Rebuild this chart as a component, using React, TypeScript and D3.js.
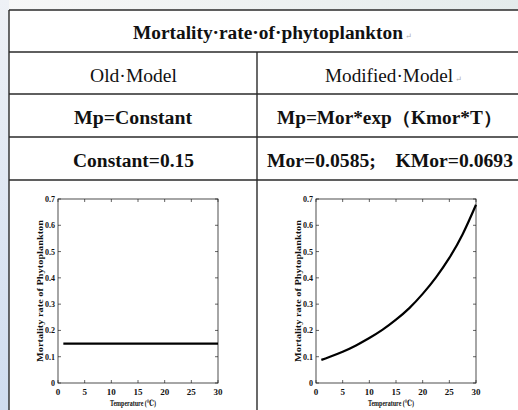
import React from "react";
import * as d3 from "d3";

const tableTitle = "Mortality·rate·of·phytoplankton";
const modelNames = ["Old·Model", "Modified·Model"];
const formulas = ["Mp=Constant", "Mp=Mor*exp（Kmor*T）"];
const params = ["Constant=0.15", "Mor=0.0585;    KMor=0.0693"];

const tempTicks = [0, 5, 10, 15, 20, 25, 30];
const rateTicks = [0, 0.1, 0.2, 0.3, 0.4, 0.5, 0.6, 0.7];

const oldTemps = [1, 30];
const oldRates = [0.15, 0.15];

const newTemps = [1, 2.5, 5, 7.5, 10, 12.5, 15, 17.5, 20, 22.5, 25, 27.5, 30];
const newRates = [0.088, 0.099, 0.119, 0.143, 0.171, 0.203, 0.241, 0.285, 0.339, 0.402, 0.476, 0.566, 0.678];

const serif = "'Liberation Serif', 'DejaVu Serif', serif";

function Chart({ x0, temps, rates }: { x0: number; temps: number[]; rates: number[] }) {
  const x = d3.scaleLinear().domain([0, 30]).range([x0, x0 + 160]);
  const y = d3.scaleLinear().domain([0, 0.7]).range([383, 199]);
  const line = d3
    .line<number>()
    .x((_, i) => x(temps[i]))
    .y((d) => y(d))
    .curve(d3.curveNatural);
  const tk = 3;
  const [y0, y1] = y.range();
  return (
    <g fontFamily={serif} fontWeight="bold" fill="#111">
      <rect x={x0} y={y1} width={160} height={y0 - y1} fill="#fff" stroke="#222" strokeWidth={0.8} />
      {tempTicks.map((t) => (
        <g key={"xt" + t}>
          <line x1={x(t)} x2={x(t)} y1={y0} y2={y0 - tk} stroke="#222" strokeWidth={0.7} />
          <line x1={x(t)} x2={x(t)} y1={y1} y2={y1 + tk} stroke="#222" strokeWidth={0.7} />
          <text x={x(t)} y={395} fontSize={9} textAnchor="middle">
            {d3.format("d")(t)}
          </text>
        </g>
      ))}
      {rateTicks.map((r) => (
        <g key={"yt" + r}>
          <line x1={x0} x2={x0 + tk} y1={y(r)} y2={y(r)} stroke="#222" strokeWidth={0.7} />
          <line x1={x0 + 160} x2={x0 + 160 - tk} y1={y(r)} y2={y(r)} stroke="#222" strokeWidth={0.7} />
          <text x={x0 - 3} y={y(r) + 3} fontSize={8} textAnchor="end">
            {r === 0 ? "0" : d3.format(".1f")(r)}
          </text>
        </g>
      ))}
      <text x={x0 + 75} y={406} fontSize={8.5} textAnchor="middle" textLength={46} lengthAdjust="spacingAndGlyphs">
        Temperature (℃)
      </text>
      <text
        transform={`translate(${x0 - 15},291) rotate(-90)`}
        fontSize={8.5}
        textAnchor="middle"
        textLength={142}
        lengthAdjust="spacingAndGlyphs"
      >
        Mortality rate of Phytoplankton
      </text>
      <path d={line(rates) || ""} fill="none" stroke="#000" strokeWidth={2.2} />
    </g>
  );
}

export default function App() {
  const lc = "#2a2a2a";
  return (
    <svg width={518} height={410} style={{ position: "absolute", left: 0, top: 0 }}>
      <defs>
        <linearGradient id="bgL" x1="0" x2="0" y1="0" y2="1">
          <stop offset="0" stopColor="#eef1f6" />
          <stop offset="1" stopColor="#cfdcef" />
        </linearGradient>
        <linearGradient id="bgT" x1="0" x2="1" y1="0" y2="0">
          <stop offset="0" stopColor="#f7f7f7" />
          <stop offset="1" stopColor="#e4ecec" />
        </linearGradient>
      </defs>
      <rect x={0} y={0} width={518} height={410} fill="url(#bgT)" />
      <rect x={0} y={0} width={9} height={410} fill="url(#bgL)" />
      <rect x={9} y={10} width={509} height={400} fill="#fff" />
      <g stroke={lc} strokeWidth={1.4}>
        <line x1={9} x2={518} y1={10} y2={10} />
        <line x1={9} x2={518} y1={52} y2={52} />
        <line x1={9} x2={518} y1={94} y2={94} />
        <line x1={9} x2={518} y1={137} y2={137} />
        <line x1={9} x2={518} y1={180} y2={180} />
        <line x1={9} x2={9} y1={10} y2={410} />
        <line x1={257} x2={257} y1={52} y2={410} />
      </g>
      <g fontFamily={serif} fill="#111">
        <text x={133} y={39} fontSize={18} fontWeight="bold" textLength={270} lengthAdjust="spacingAndGlyphs">
          {tableTitle}
        </text>
        <text x={405} y={39} fontSize={8} fill="#aaa">↵</text>
        <text x={90} y={82} fontSize={19} textLength={87} lengthAdjust="spacingAndGlyphs">
          {modelNames[0]}
        </text>
        <text x={325} y={82} fontSize={19} textLength={128} lengthAdjust="spacingAndGlyphs">
          {modelNames[1]}
        </text>
        <text x={455} y={82} fontSize={8} fill="#aaa">↵</text>
        <text x={74} y={124} fontSize={18} fontWeight="bold" textLength={118} lengthAdjust="spacingAndGlyphs">
          {formulas[0]}
        </text>
        <text x={277} y={124} fontSize={18} fontWeight="bold" textLength={225} lengthAdjust="spacingAndGlyphs">
          {formulas[1]}
        </text>
        <text x={73} y={167} fontSize={18} fontWeight="bold" textLength={121} lengthAdjust="spacingAndGlyphs">
          {params[0]}
        </text>
        <text x={267} y={167} fontSize={18} fontWeight="bold" textLength={246} lengthAdjust="spacingAndGlyphs" style={{ whiteSpace: "pre" }}>
          {params[1]}
        </text>
      </g>
      <Chart x0={58} temps={oldTemps} rates={oldRates} />
      <Chart x0={316} temps={newTemps} rates={newRates} />
    </svg>
  );
}
